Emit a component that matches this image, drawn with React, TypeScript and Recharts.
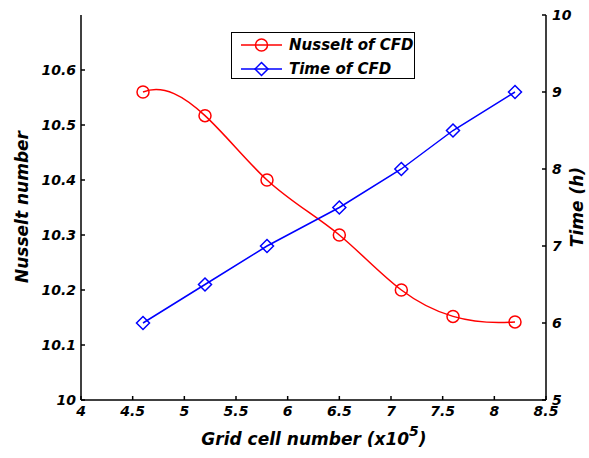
import React from 'react';
import { LineChart, Line, XAxis, YAxis, Legend } from 'recharts';

const gridCells = [4.6, 5.2, 5.8, 6.5, 7.1, 7.6, 8.2];
const nusselt = [10.56, 10.517, 10.4, 10.3, 10.2, 10.152, 10.142];
const timeHours = [6, 6.5, 7, 7.5, 8, 8.5, 9];
const xTicks = [4, 4.5, 5, 5.5, 6, 6.5, 7, 7.5, 8, 8.5];
const nuTicks = [10, 10.1, 10.2, 10.3, 10.4, 10.5, 10.6];
const timeTicks = [5, 6, 7, 8, 9, 10];
const seriesNames = ['Nusselt of CFD', 'Time of CFD'];
const axisTitles = ['Grid cell number (x10', '5', ')', 'Nusselt number', 'Time (h)'];

const FONT = 'DejaVu Sans';
const RED = '#ff0000';
const BLUE = '#0000ff';

// MATLAB-like not-a-knot cubic spline curve factory (y as a function of x)
function notAKnot(context: any) {
  let xs: number[] = [];
  let ys: number[] = [];
  return {
    areaStart() {},
    areaEnd() {},
    lineStart() {
      xs = [];
      ys = [];
    },
    point(x: number, y: number) {
      xs.push(+x);
      ys.push(+y);
    },
    lineEnd() {
      const n = xs.length;
      if (n === 0) return;
      context.moveTo(xs[0], ys[0]);
      if (n < 4) {
        for (let i = 1; i < n; i++) context.lineTo(xs[i], ys[i]);
        return;
      }
      const h: number[] = [];
      for (let i = 0; i < n - 1; i++) h.push(xs[i + 1] - xs[i]);
      const A: number[][] = [];
      const b: number[] = [];
      for (let i = 0; i < n; i++) {
        A.push(new Array(n).fill(0));
        b.push(0);
      }
      A[0][0] = h[1];
      A[0][1] = -(h[0] + h[1]);
      A[0][2] = h[0];
      for (let i = 1; i < n - 1; i++) {
        A[i][i - 1] = h[i - 1];
        A[i][i] = 2 * (h[i - 1] + h[i]);
        A[i][i + 1] = h[i];
        b[i] = 6 * ((ys[i + 1] - ys[i]) / h[i] - (ys[i] - ys[i - 1]) / h[i - 1]);
      }
      A[n - 1][n - 3] = h[n - 2];
      A[n - 1][n - 2] = -(h[n - 3] + h[n - 2]);
      A[n - 1][n - 1] = h[n - 3];
      for (let c = 0; c < n; c++) {
        let p = c;
        for (let r = c + 1; r < n; r++) if (Math.abs(A[r][c]) > Math.abs(A[p][c])) p = r;
        [A[c], A[p]] = [A[p], A[c]];
        [b[c], b[p]] = [b[p], b[c]];
        for (let r = c + 1; r < n; r++) {
          const f = A[r][c] / A[c][c];
          for (let k = c; k < n; k++) A[r][k] -= f * A[c][k];
          b[r] -= f * b[c];
        }
      }
      const M = new Array(n).fill(0);
      for (let r = n - 1; r >= 0; r--) {
        let s = b[r];
        for (let k = r + 1; k < n; k++) s -= A[r][k] * M[k];
        M[r] = s / A[r][r];
      }
      const d: number[] = [];
      for (let i = 0; i < n - 1; i++) d.push((ys[i + 1] - ys[i]) / h[i] - (h[i] * (2 * M[i] + M[i + 1])) / 6);
      d.push((ys[n - 1] - ys[n - 2]) / h[n - 2] + (h[n - 2] * (M[n - 2] + 2 * M[n - 1])) / 6);
      for (let i = 0; i < n - 1; i++) {
        const t = h[i] / 3;
        context.bezierCurveTo(xs[i] + t, ys[i] + d[i] * t, xs[i + 1] - t, ys[i + 1] - d[i + 1] * t, xs[i + 1], ys[i + 1]);
      }
    },
  };
}

const tickStyle = { fill: '#000', fontSize: 14, fontWeight: 'bold', fontStyle: 'italic', fontFamily: FONT };
const axisLine = { stroke: '#000', strokeWidth: 1.5 };

const Diamond = (props: any) => {
  const { cx, cy, index } = props;
  if (cx == null || cy == null) return <g key={`d-${index}`} />;
  const s = 6.5;
  return (
    <polygon
      key={`d-${index}`}
      points={`${cx},${cy - s} ${cx + s},${cy} ${cx},${cy + s} ${cx - s},${cy}`}
      fill="none"
      stroke={BLUE}
      strokeWidth={1.5}
    />
  );
};

const LegendBox = (props: any) => {
  const payload = props.payload || [];
  return (
    <div
      style={{
        width: 184,
        height: 47,
        boxSizing: 'border-box',
        border: '1px solid #000',
        background: '#fff',
      }}
    >
      <svg width={182} height={45}>
        {payload.map((p: any, i: number) => {
          const y = 12 + i * 24;
          const c = p.color;
          return (
            <g key={i}>
              <line x1={9} x2={50} y1={y} y2={y} stroke={c} strokeWidth={1.5} />
              {i === 0 ? (
                <circle cx={29.5} cy={y} r={6} fill="none" stroke={c} strokeWidth={1.5} />
              ) : (
                <polygon
                  points={`29.5,${y - 6.5} 36,${y} 29.5,${y + 6.5} 23,${y}`}
                  fill="none"
                  stroke={c}
                  strokeWidth={1.5}
                />
              )}
              <text
                x={57}
                y={y}
                dominantBaseline="central"
                fontFamily={FONT}
                fontWeight="bold"
                fontStyle="italic"
                fontSize={15}
                fill="#000"
              >
                {p.value}
              </text>
            </g>
          );
        })}
      </svg>
    </div>
  );
};

export default function App() {
  const data = gridCells.map((x, i) => ({ x, nu: nusselt[i], t: timeHours[i] }));
  const titleStyle: any = { fontFamily: FONT, fontWeight: 'bold', fontStyle: 'italic', fontSize: 17, fill: '#000' };
  return (
    <div style={{ position: 'relative', width: 589, height: 458, background: '#fff' }}>
      <style>{`body{margin:0}`}</style>
      <LineChart width={589} height={458} data={data} margin={{ top: 15, right: 0, bottom: 0, left: 0 }}>
        <XAxis
          dataKey="x"
          type="number"
          domain={[4, 8.5]}
          ticks={xTicks}
          interval={0}
          allowDataOverflow
          height={58}
          tickSize={-4}
          tickMargin={10}
          axisLine={axisLine}
          tickLine={axisLine}
          tick={tickStyle}
        />
        <XAxis
          xAxisId="top"
          orientation="top"
          dataKey="x"
          type="number"
          domain={[4, 8.5]}
          height={0}
          tick={false}
          tickLine={false}
          axisLine={axisLine}
        />
        <YAxis
          yAxisId="nu"
          domain={[10, 10.7]}
          ticks={nuTicks}
          interval={0}
          allowDataOverflow
          width={81}
          tickSize={-4}
          tickMargin={9}
          axisLine={axisLine}
          tickLine={axisLine}
          tick={tickStyle}
        />
        <YAxis
          yAxisId="t"
          orientation="right"
          domain={[5, 10]}
          ticks={timeTicks}
          interval={0}
          allowDataOverflow
          width={43}
          tickSize={-4}
          tickMargin={10}
          axisLine={axisLine}
          tickLine={axisLine}
          tick={{ ...tickStyle, textAnchor: 'start' }}
        />
        <Legend
          layout="vertical"
          align="center"
          verticalAlign="middle"
          content={<LegendBox />}
          wrapperStyle={{ left: 231, top: 32, width: 184, height: 47 }}
        />
        <Line
          yAxisId="nu"
          dataKey="nu"
          name={seriesNames[0]}
          type={notAKnot as any}
          stroke={RED}
          strokeWidth={1.5}
          dot={{ r: 6, stroke: RED, strokeWidth: 1.5, fill: 'none' }}
          activeDot={false}
          isAnimationActive={false}
        />
        <Line
          yAxisId="t"
          dataKey="t"
          name={seriesNames[1]}
          type="linear"
          stroke={BLUE}
          strokeWidth={1.5}
          dot={<Diamond />}
          activeDot={false}
          isAnimationActive={false}
        />
      </LineChart>
      <svg width={589} height={458} style={{ position: 'absolute', left: 0, top: 0, pointerEvents: 'none' }}>
        <text x={314} y={445} textAnchor="middle" {...titleStyle}>
          {axisTitles[0]}
          <tspan fontSize={14} dy={-9}>{axisTitles[1]}</tspan>
          <tspan dy={9}>{axisTitles[2]}</tspan>
        </text>
        <text
          x={22}
          y={207}
          textAnchor="middle"
          dominantBaseline="central"
          transform="rotate(-90 22 207)"
          {...titleStyle}
        >
          {axisTitles[3]}
        </text>
        <text
          x={577}
          y={207}
          textAnchor="middle"
          dominantBaseline="central"
          transform="rotate(-90 577 207)"
          {...titleStyle}
        >
          {axisTitles[4]}
        </text>
      </svg>
    </div>
  );
}
